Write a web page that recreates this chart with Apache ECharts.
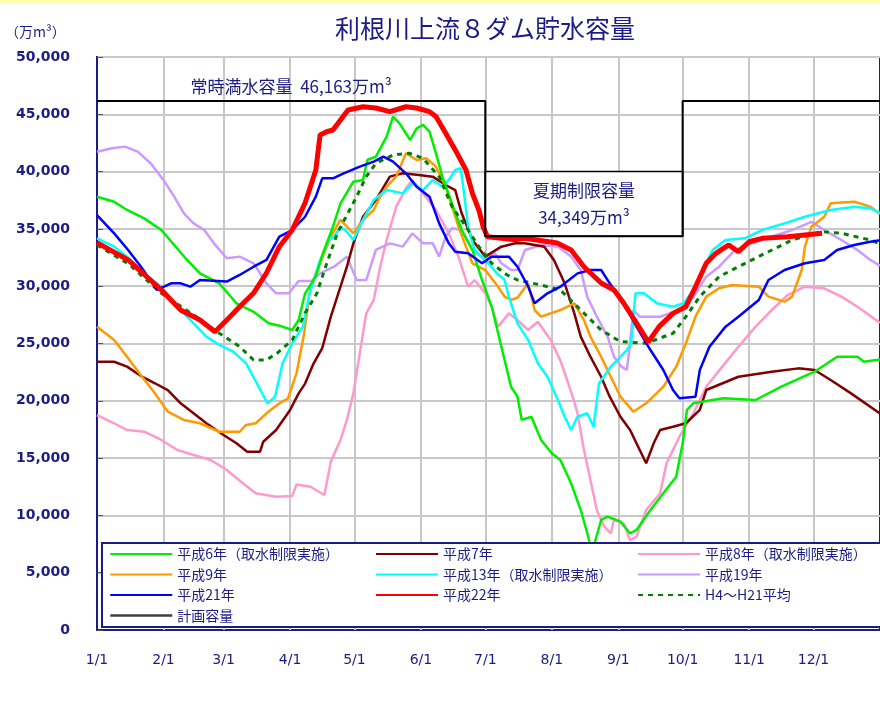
<!DOCTYPE html>
<html>
<head>
<meta charset="utf-8">
<title>利根川上流８ダム貯水容量</title>
<script src="https://cdn.jsdelivr.net/npm/echarts@6/dist/echarts.min.js"></script>
<style>
  html, body { margin: 0; padding: 0; background: #fff; }
  #chart { width: 880px; height: 713px; }
</style>
</head>
<body>
<div id="chart"></div>
<script>
// x: days since 1/1, y: 万m³
const monthStarts = [0, 31, 59, 90, 120, 151, 181, 212, 243, 273, 304, 334]
const monthLabels = ['1/1', '2/1', '3/1', '4/1', '5/1', '6/1', '7/1', '8/1', '9/1', '10/1', '11/1', '12/1']

const plannedFull = 46163
const summerLimit = 34349
const planned = [[0, plannedFull], [181, plannedFull], [181, summerLimit], [273, summerLimit], [273, plannedFull], [365, plannedFull]]

const h6 = [[0, 37800], [8, 37370], [14, 36650], [22, 35920], [30, 34900], [36, 33600], [42, 32290], [48, 31120], [57, 30250], [65, 28510], [73, 27770], [80, 26760], [86, 26500], [91, 26180], [94, 27050], [97, 29380], [102, 30830], [105, 32700], [110, 35190], [113.5, 37230], [119.5, 39120], [124, 39270], [126, 41010], [130, 41300], [135, 43050], [138, 44800], [141, 44210], [146, 42760], [149, 43780], [152, 44070], [155, 43480], [158, 41600], [161, 39560], [166, 36940], [170, 34900], [175, 33160], [179.5, 30540], [184, 28210], [187, 25890], [190, 23560], [193, 21230], [196, 20360], [198, 18330], [202.5, 18610], [207, 16580], [212, 15420], [216, 14830], [221, 12800], [225.5, 10470], [229, 8140], [230, 7270], [231, 5800], [232, 7590], [235, 9600], [238, 9890], [244, 9450], [248.5, 8440], [251.5, 8730], [258, 10470], [264, 11930], [270, 13380], [273, 16290], [275, 19200], [278, 19780], [287, 20070], [292, 20220], [307, 20070], [319, 21230], [334.5, 22540], [345, 23850], [354.5, 23850], [357.5, 23410], [365, 23600]]

const h7 = [[0, 23410], [8, 23410], [14, 22980], [21, 22100], [27, 21530], [33, 20940], [39, 19780], [45, 18910], [51, 18040], [59, 17020], [65, 16290], [70, 15560], [76, 15560], [77.5, 16430], [83.5, 17450], [90, 19200], [94, 20650], [97, 21500], [101, 23270], [105, 24600], [109, 27340], [112, 29090], [116.5, 31700], [119.5, 33740], [124, 36060], [130, 37520], [136.5, 39560], [142.5, 39850], [150, 39700], [156.5, 39560], [162.5, 38830], [167, 38390], [170, 36360], [175, 34030], [181, 32580], [188.5, 33450], [195, 33740], [199.5, 33740], [208.5, 33450], [213, 32290], [218, 30250], [222.5, 27630], [225.5, 25600], [230, 23850], [235, 22100], [239, 20360], [244, 18610], [248.5, 17450], [253, 15710], [256, 14550], [259.5, 16290], [262.5, 17450], [268.5, 17740], [274.5, 18040], [281, 19200], [284, 20940], [299, 22100], [314.5, 22540], [327, 22830], [334.5, 22690], [342, 21820], [351.5, 20650], [365, 18900]]

const h8 = [[0, 18760], [8, 18040], [14, 17450], [22, 17300], [30, 16580], [37.5, 15710], [45, 15270], [53, 14830], [60.5, 13960], [68, 12800], [74, 11930], [83.5, 11630], [91, 11700], [93, 12700], [99.5, 12500], [106, 11780], [109, 14700], [113.5, 16580], [116.5, 18330], [119.5, 20650], [122.5, 24150], [125.5, 27630], [129, 28800], [132, 31700], [135, 34030], [139.5, 36940], [144, 38540], [147, 39270], [152, 38100], [158, 36650], [164, 34610], [168.5, 32580], [173, 29960], [176, 30540], [181, 29380], [184, 28210], [187, 26470], [192, 27630], [196, 27050], [201, 26180], [205.5, 26900], [211.5, 25300], [216, 23500], [219, 21900], [222.5, 19900], [224, 18910], [227, 15710], [230, 13090], [233, 10470], [236.5, 9010], [239.5, 8440], [241, 9600], [245.5, 9310], [248.5, 7850], [251.5, 8140], [256, 10470], [262.5, 11930], [265.5, 14550], [271.5, 16870], [278, 18910], [284, 21230], [291.5, 22980], [299, 24720], [307, 26470], [314.5, 27920], [322, 29230], [330, 29960], [339, 29820], [347, 29090], [354.5, 28210], [365, 26800]]

const h9 = [[0, 26470], [8, 25300], [14, 23850], [21, 22100], [27, 20650], [33, 19050], [40.5, 18330], [48, 18040], [57, 17300], [66.5, 17300], [69.5, 17890], [74, 18040], [79, 18910], [85, 19780], [89, 20200], [93, 22400], [96.5, 25800], [99.5, 29960], [104, 32000], [109, 34320], [113.5, 35780], [116.5, 35190], [119.5, 34610], [124, 35780], [129, 36650], [132, 37810], [135, 38680], [139.5, 39560], [144, 41600], [149, 41010], [153.5, 41160], [158, 40430], [162.5, 38680], [165.5, 36940], [168.5, 35190], [172, 33450], [175, 32000], [181, 31410], [186, 30200], [190, 29090], [193, 28800], [196, 29000], [201, 30250], [204, 27920], [207, 27340], [216, 27920], [222.5, 28510], [227, 27050], [230, 25600], [235, 23850], [239.5, 22100], [244, 20360], [250, 19050], [256, 19780], [264, 21230], [270, 22980], [274.5, 25020], [279, 27340], [284, 29090], [290, 29820], [296, 30100], [308.5, 29960], [313, 29090], [320.5, 28650], [324, 29090], [328.5, 31410], [330, 33450], [333, 35190], [339, 36060], [342, 37230], [353, 37370], [360.5, 36940], [365, 36300]]

const h13 = [[0, 34180], [8, 33450], [14, 32580], [22, 31120], [30, 29960], [37.5, 28210], [45, 26760], [51, 25600], [57, 24870], [63.5, 24290], [69.5, 23270], [74.5, 21530], [79.5, 19780], [83, 20360], [86.5, 23270], [91, 25020], [96, 26470], [99, 29300], [103.5, 32000], [108, 34030], [110.5, 34320], [113.5, 35190], [116.5, 34760], [119.5, 34030], [124, 35780], [129, 37520], [135, 38390], [142.5, 38100], [147, 38970], [152, 38390], [156.5, 39270], [161, 38680], [164, 39270], [167, 40140], [169.5, 40290], [170.5, 39000], [173, 35190], [176, 33160], [182.5, 32000], [186, 31200], [190, 30540], [192, 29090], [196, 26760], [201, 25300], [205.5, 23270], [210, 22100], [215, 20000], [218, 18610], [221, 17450], [224, 18610], [228.5, 18910], [231.5, 17740], [234, 21530], [239.5, 22980], [247, 24430], [249, 25000], [251, 29380], [255, 29380], [261, 28510], [268.5, 28210], [273.5, 28510], [278, 29670], [282.5, 31410], [287, 33160], [293, 34030], [302, 34180], [310, 34900], [320.5, 35480], [330, 36060], [342, 36650], [353, 36940], [360.5, 36800], [365, 36400]]

const h19 = [[0, 41740], [7, 42030], [13, 42180], [19, 41740], [25, 40720], [31, 39270], [36, 37810], [40.5, 36360], [45, 35480], [50, 34900], [54.5, 33740], [60.5, 32440], [66.5, 32580], [73, 32000], [79, 30250], [83.5, 29380], [89.5, 29380], [94, 30450], [100, 30450], [104, 31120], [110.5, 31700], [116.5, 32580], [121, 30540], [125.5, 30540], [130, 33160], [136.5, 33740], [142.5, 33450], [147, 34610], [152, 33740], [156.5, 33740], [159.5, 32580], [162.5, 34320], [165.5, 35050], [170, 34900], [175, 33160], [181, 32290], [185.5, 32870], [188.5, 32000], [193, 31410], [196, 31410], [199.5, 33160], [207, 33600], [215, 33450], [221, 32580], [225.5, 31410], [228.5, 29090], [233, 27340], [238, 25600], [241, 23850], [244.5, 22980], [247, 22690], [248.5, 25020], [250, 27920], [253, 27340], [262.5, 27340], [271.5, 27920], [278, 29090], [284, 30830], [290, 31700], [297.5, 33160], [305.5, 33740], [314.5, 34320], [324, 34900], [333, 35620], [339, 34900], [347, 34030], [354.5, 33160], [360.5, 32290], [365, 31800]]

const h21 = [[0, 36200], [8, 34610], [14.5, 33160], [20.5, 31700], [28, 29670], [34.5, 30250], [39, 30250], [43.5, 29960], [48, 30540], [60.5, 30400], [66.5, 30980], [73, 31700], [79, 32290], [85, 34320], [91, 34900], [97, 36060], [102, 37810], [105, 39410], [110, 39410], [115, 39850], [122.5, 40430], [129, 40870], [133.5, 41300], [138, 40870], [144, 39850], [149, 38680], [155, 37810], [159.5, 35480], [164, 33740], [167, 33010], [173, 32870], [179.5, 32000], [184, 32580], [192, 32580], [196, 31700], [201, 29960], [204, 28510], [210, 29380], [216, 29960], [224, 31120], [230, 31410], [235, 31410], [239, 30250], [245.5, 28510], [251.5, 26470], [258, 24430], [264, 22690], [268.5, 20940], [271.5, 20220], [279, 20360], [281, 22690], [285.5, 24720], [293, 26470], [299, 27340], [308.5, 28800], [313, 30540], [320.5, 31410], [330, 32000], [339, 32290], [345, 33160], [353, 33600], [360.5, 33880], [365, 34000]]

const h22 = [[0, 33800], [14.5, 32290], [30, 29670], [39, 27920], [48, 27050], [55, 26030], [60.5, 27050], [66.5, 28210], [73, 29400], [79, 31150], [85, 33450], [91, 34900], [97, 37260], [102, 40140], [104, 43200], [107, 43480], [110, 43630], [113.5, 44500], [117, 45380], [124, 45660], [130, 45550], [136.5, 45230], [144, 45660], [149, 45550], [155, 45230], [158, 44800], [162.5, 43370], [167, 41890], [172, 40140], [175, 38100], [178, 36650], [180, 35190], [182, 34320], [195, 34050], [199.5, 34180], [214.5, 33770], [221, 33160], [227, 31700], [235, 30280], [241, 29670], [245.5, 28530], [251.5, 26790], [257, 25130], [262, 26470], [268.5, 27630], [274.5, 28210], [279, 29950], [284, 32000], [288.5, 32870], [294.5, 33600], [299, 33010], [304, 33880], [310, 34180], [322, 34320], [330, 34470], [338, 34620]]

const avg = [[0, 33600], [15, 31900], [30, 29380], [45, 27490], [57, 25890], [66.5, 24720], [73, 23560], [79, 23560], [84, 24160], [91, 25300], [97, 27660], [102.5, 29380], [106, 31400], [112, 34610], [121, 37810], [125.5, 39560], [130, 40720], [138, 41450], [145.5, 41600], [152, 41160], [159.5, 39560], [165.5, 36940], [172, 35190], [178, 33450], [184, 32000], [191, 31000], [196, 30540], [207, 30100], [216, 29670], [225.5, 27920], [235, 26180], [244, 25160], [256, 25020], [268.5, 25890], [274.5, 27340], [281, 29090], [290, 30830], [299, 31700], [311.5, 32870], [324, 34030], [337.5, 34760], [347, 34620], [360.5, 34030], [365, 33700]]

const NAVY = '#1c1c84'
const GRID = '#c8c8c8'
const FONT = '"Noto Sans CJK JP", "DejaVu Sans", sans-serif'

function line(name, data, color, width, extra) {
  return Object.assign({
    name: name,
    type: 'line',
    data: data,
    symbol: 'none',
    legendIcon: 'none',
    animation: false,
    silent: true,
    z: 2,
    lineStyle: { color: color, width: width },
    itemStyle: { color: color },
  }, extra || {})
}

const legendBase = {
  orient: 'vertical',
  top: 547,
  padding: 0,
  itemWidth: 62,
  itemHeight: 14,
  itemGap: 6.5,
  selectedMode: false,
  z: 10,
  itemStyle: { opacity: 0 },
  textStyle: { color: NAVY, fontSize: 14, lineHeight: 14, fontFamily: FONT },
}

const chart = echarts.init(document.getElementById('chart'))

chart.setOption({
  backgroundColor: '#fff',
  textStyle: { fontFamily: FONT },
  title: [
    {
      text: '利根川上流８ダム貯水容量',
      left: 330,
      top: 11,
      textStyle: { color: NAVY, fontSize: 25, fontWeight: 'normal', fontFamily: FONT },
    },
    {
      text: '（万m³）',
      left: 0,
      top: 20,
      textStyle: { color: NAVY, fontSize: 14, fontWeight: 'normal', fontFamily: FONT },
    },
  ],
  grid: {
    left: 97,
    top: 57,
    width: 792,
    height: 573,
    show: true,
    borderColor: NAVY,
    borderWidth: 2,
  },
  xAxis: {
    type: 'value',
    min: 0,
    max: 365,
    axisLine: { lineStyle: { color: NAVY, width: 2 } },
    axisTick: { inside: true, length: 5, customValues: monthStarts, lineStyle: { color: NAVY } },
    axisLabel: {
      customValues: monthStarts,
      formatter: v => monthLabels[monthStarts.indexOf(v)],
      color: NAVY,
      fontSize: 14,
      margin: 23,
      fontFamily: '"DejaVu Sans", sans-serif',
    },
    splitLine: { show: false },
  },
  yAxis: {
    type: 'value',
    min: 0,
    max: 50000,
    interval: 5000,
    axisLine: { show: true, lineStyle: { color: NAVY, width: 2 } },
    axisTick: { show: true, inside: true, length: 6, lineStyle: { color: '#555' } },
    axisLabel: {
      formatter: v => v.toLocaleString('en-US'),
      color: NAVY,
      fontSize: 14,
      fontWeight: 'bold',
      margin: 27,
      fontFamily: '"DejaVu Sans", sans-serif',
    },
    splitLine: { show: true, lineStyle: { color: GRID, width: 2 } },
  },
  legend: [
    Object.assign({ left: 109, data: ['平成6年（取水制限実施）', '平成9年', '平成21年', { name: '計画容量', lineStyle: { color: '#404040', width: 2.5 } }] }, legendBase),
    Object.assign({ left: 375, data: ['平成7年', '平成13年（取水制限実施）', '平成22年'] }, legendBase),
    Object.assign({ left: 637, data: ['平成8年（取水制限実施）', '平成19年', 'H4～H21平均'] }, legendBase),
  ],
  graphic: {
    z: 5,
    elements: [
      { type: 'rect', z: 5, shape: { x: 102, y: 543, width: 800, height: 84 }, style: { fill: '#fff', stroke: NAVY, lineWidth: 2 } },
      { type: 'rect', z: 5, shape: { x: 0, y: 0, width: 880, height: 3 }, style: { fill: '#ffffb0' } },
    ],
  },
  series: [
    // vertical month gridlines
    {
      type: 'line',
      data: [],
      z: 1,
      silent: true,
      animation: false,
      markLine: {
        z: 1,
        silent: true,
        animation: false,
        symbol: 'none',
        label: { show: false },
        lineStyle: { color: GRID, width: 2, type: 'solid' },
        data: monthStarts.slice(1).map(d => ({ xAxis: d })),
      },
    },
    line('計画容量', planned, '#000', 2, {
      z: 3,
      itemStyle: { color: '#000' },
      markArea: {
        z: 1.5,
        silent: true,
        animation: false,
        data: [
          [
            {
              name: '常時満水容量  46,163万m³',
              coord: [0, plannedFull],
              itemStyle: { color: 'rgba(0,0,0,0)' },
              label: { position: 'insideBottom', distance: 6, color: NAVY, fontSize: 17, fontFamily: FONT },
            },
            { coord: [181, 50000] },
          ],
          [
            {
              name: '夏期制限容量\n34,349万m³',
              coord: [181, summerLimit],
              itemStyle: { color: '#fff', borderColor: '#000', borderWidth: 1.5 },
              label: { position: 'inside', color: NAVY, fontSize: 17, lineHeight: 27, fontFamily: FONT },
            },
            { coord: [273, 40000] },
          ],
        ],
      },
    }),
    line('平成8年（取水制限実施）', h8, '#ff99cc', 2.5),
    line('平成19年', h19, '#cc99ff', 2.5),
    line('平成7年', h7, '#800000', 2.5),
    line('平成9年', h9, '#ff9900', 2.5),
    line('平成13年（取水制限実施）', h13, '#00ffff', 2.5),
    line('平成6年（取水制限実施）', h6, '#00ee00', 2.5),
    line('H4～H21平均', avg, '#008000', 2.5, { lineStyle: { color: '#008000', width: 3, type: [5, 5] } }),
    line('平成21年', h21, '#0000ff', 2.5),
    line('平成22年', h22, '#ff0000', 5),
  ],
})
</script>
</body>
</html>
